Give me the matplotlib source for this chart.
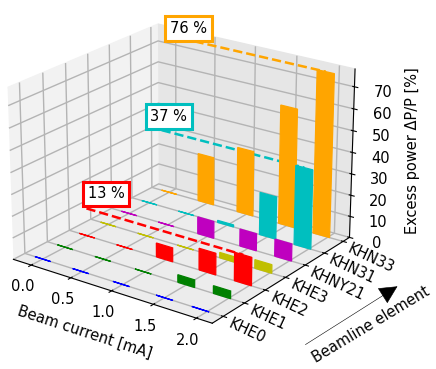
import matplotlib
matplotlib.use('Agg')
import matplotlib.pyplot as plt
from matplotlib.patches import FancyArrowPatch

currents = [0.0, 0.48, 0.98, 1.5, 1.92]
current_ticks = [0.0, 0.5, 1.0, 1.5, 2.0]
elements = ['KHE0', 'KHE1', 'KHE2', 'KHE3', 'KHNY21', 'KHN31', 'KHN33']
colors = ['b', 'g', 'r', '#c0bf00', '#bf00bf', '#00bfbf', 'orange']

khe0 = [0, 0, 0, 0, 0]
khe1 = [0, 0, 0, 3.5, 3.5]
khe2 = [0, 0, 6.5, 10, 13]
khe3 = [0, 0, 0, 2.5, 4]
khny21 = [0, 0, 8, 8, 8]
khn31 = [0, 0, 1, 20, 37]
khn33 = [0, 23, 31, 56, 76]
rows = [khe0, khe1, khe2, khe3, khny21, khn31, khn33]

# labelled rows: index, text, peak
labels = [(2, '13 %', 13), (5, '37 %', 37), (6, '76 %', 76)]
label_lift = [3.5, 1.5, 0]

fig = plt.figure(figsize=(4.36, 3.69), dpi=100)
ax = fig.add_axes([-0.086, 0.025, 0.99, 1.03], projection='3d')
ax.view_init(elev=22, azim=-54)

for k, row in enumerate(rows):
    ax.bar(currents, row, zs=k, zdir='y', width=0.2, color=colors[k],
           edgecolor=colors[k], linewidth=0.9, alpha=1.0)

for (k, text, peak), lift in zip(labels, label_lift):
    ax.plot([currents[0], currents[-1]], [k, k], [peak, peak], ls='--', color=colors[k], lw=1.8)
    ax.text(0.02, k, peak + lift, text, fontsize=10.5, ha='left', va='bottom', zorder=20,
            bbox=dict(fc='white', ec=colors[k], lw=2.2, pad=3.5))

ax.set_xticks(current_ticks)
ax.set_yticks(range(len(elements)))
ax.set_yticklabels(elements, rotation=-25, ha='left', va='center', fontsize=10.5,
                   rotation_mode='anchor')
ax.set_zticks(range(0, 71, 10))
ax.set_xlim(-0.23, 2.18)
ax.set_ylim(-0.5, 6.35)
ax.set_zlim(0, 78)
ax.tick_params(axis='x', labelsize=10.5, pad=0)
ax.tick_params(axis='y', pad=-4)
ax.tick_params(axis='z', labelsize=10.5, pad=4)
ax.xaxis.set_rotate_label(False)
ax.zaxis.set_rotate_label(False)
ax.set_xlabel('Beam current [mA]', fontsize=10.5, labelpad=2, rotation=-18)
ax.set_zlabel('Excess power ΔP/P [%]', fontsize=10.5, labelpad=5, rotation=90)

for axis, shade in zip([ax.xaxis, ax.yaxis, ax.zaxis], [0.95, 0.90, 0.925]):
    axis.set_pane_color((shade, shade, shade, 1.0))
    axis._axinfo['grid']['color'] = '#b4b4b4'
    axis._axinfo['grid']['linewidth'] = 1.0

fig.text(0.85, 0.12, 'Beamline element', rotation=31, fontsize=10.5,
         ha='center', va='center', rotation_mode='anchor')
fig.add_artist(FancyArrowPatch((0.695, 0.062), (0.917, 0.228), transform=fig.transFigure,
                               arrowstyle='-|>,head_length=0.6,head_width=0.3',
                               mutation_scale=20, lw=0.4, color='k'))

fig.savefig('out.png', dpi=100)
